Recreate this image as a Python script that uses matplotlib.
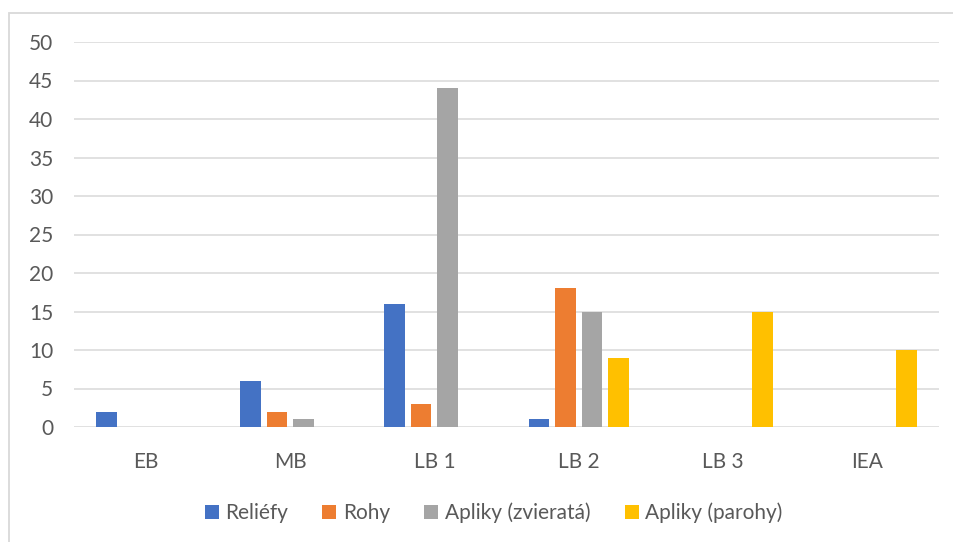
import numpy as np
import matplotlib.pyplot as plt
from matplotlib.patches import Rectangle

# data
categories = ['EB', 'MB', 'LB 1', 'LB 2', 'LB 3', 'IEA']
series_names = ['Reliéfy', 'Rohy', 'Apliky (zvieratá)', 'Apliky (parohy)']
reliefy = [2, 6, 16, 1, 0, 0]
rohy = [0, 2, 3, 18, 0, 0]
apliky_zvierata = [0, 1, 44, 15, 0, 0]
apliky_parohy = [0, 0, 0, 9, 15, 10]
y_ticks = [0, 5, 10, 15, 20, 25, 30, 35, 40, 45, 50]

colors = ['#4472C4', '#ED7D31', '#A5A5A5', '#FFC000']
text_col = '#595959'
grid_col = '#D9D9D9'

plt.rcParams['font.family'] = ['Lato', 'DejaVu Sans']

W, H = 954, 542
fig = plt.figure(figsize=(W / 100, H / 100), dpi=100)

# chart border (only left and top visible in the picture)
fig.patches.append(Rectangle((9 / W, -0.1), 1.2, 1 - 13 / H + 0.1,
                             transform=fig.transFigure, fill=False,
                             edgecolor=grid_col, linewidth=1.3))

ax = fig.add_axes([74 / W, 1 - 427 / H, (939 - 74) / W, (427 - 42) / H])

x = np.arange(len(categories))
step = 0.184
width = 0.142
all_series = [reliefy, rohy, apliky_zvierata, apliky_parohy]
for i, (vals, name) in enumerate(zip(all_series, series_names)):
    ax.bar(x + (i - 1.5) * step, vals, width, color=colors[i], label=name,
           zorder=3)

ax.set_xlim(-0.5, len(categories) - 0.5)
ax.set_ylim(0, 50)
ax.set_yticks(y_ticks)
ax.set_xticks(x)
ax.set_xticklabels(categories)
ax.yaxis.grid(True, color=grid_col, linewidth=1.1, zorder=0)
for s in ax.spines.values():
    s.set_visible(False)
ax.tick_params(axis='both', length=0, labelsize=15, colors=text_col)
ax.tick_params(axis='y', pad=15)
ax.tick_params(axis='x', pad=18)

ax.legend(loc='center', bbox_to_anchor=(0.5 - 13 / (939 - 74), (427 - 513) / (427 - 42)),
          ncol=4, frameon=False, fontsize=15, labelcolor=text_col,
          handlelength=0.68, handleheight=0.68, handletextpad=0.3,
          columnspacing=1.65)

fig.savefig('out.png', dpi=100)
